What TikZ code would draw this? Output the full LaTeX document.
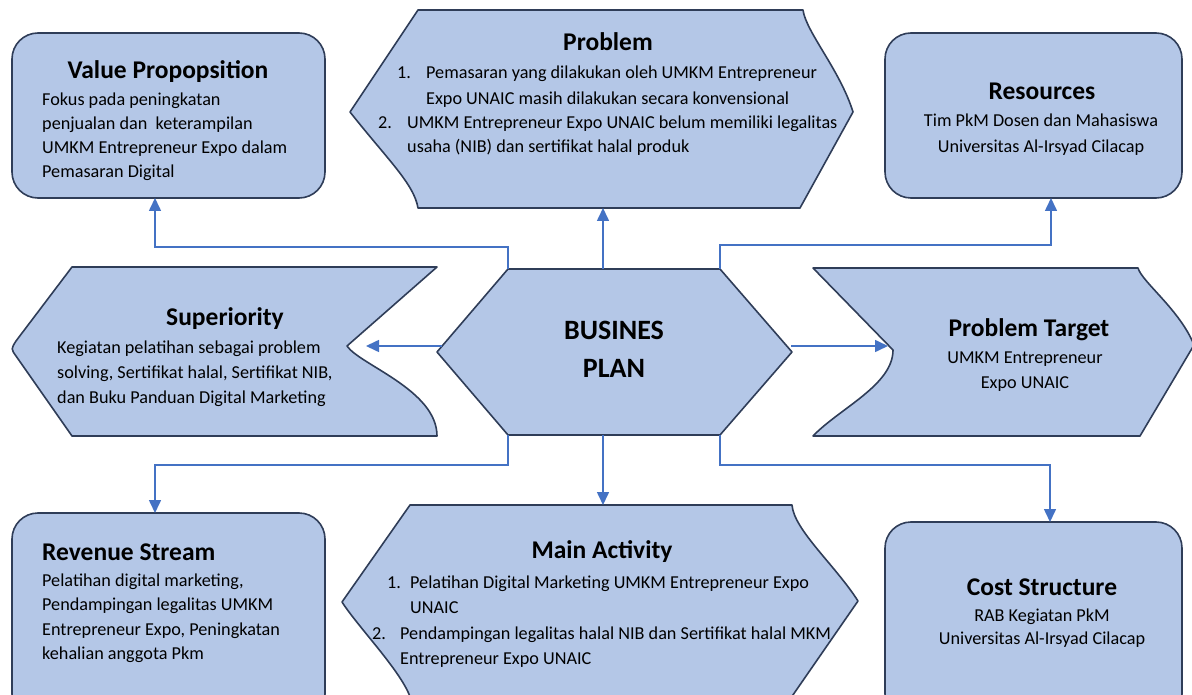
\documentclass[tikz,border=0pt]{standalone}
\usepackage{fontspec}
\setmainfont{Carlito}
\usetikzlibrary{arrows.meta}
\definecolor{boxfill}{HTML}{B4C7E7}
\definecolor{boxline}{HTML}{2F3D58}
\definecolor{link}{HTML}{4472C4}

\tikzset{
  shapebox/.style={fill=boxfill, draw=boxline, line width=1.6pt, line join=round},
  roundbox/.style={shapebox, rounded corners=26pt},
  conn/.style={draw=link, line width=1.6pt, -{Triangle[width=12pt,length=13pt]}},
  title/.style={font=\fontsize{25.5}{30}\selectfont\bfseries, inner sep=0pt, anchor=base},
  body/.style={font=\fontsize{18.2}{#1}\selectfont, inner sep=0pt},
  body/.default=24pt,
}

\begin{document}
\begin{tikzpicture}[x=1pt,y=-1pt]
\useasboundingbox (0,0) rectangle (1192,695);

% ---- top row -------------------------------------------------------
\draw[roundbox] (12,33) rectangle (325,198);
\draw[roundbox] (885,33) rectangle (1182,198);
\draw[shapebox] (418,10) -- (803,10)
  .. controls (806,32) and (840,70) .. (853,112) -- (800,208) -- (418,208)
  .. controls (414,184) and (388,160) .. (350,112) -- cycle;

% ---- middle row ----------------------------------------------------
\draw[shapebox] (72,267) -- (437,267) -- (347,346)
  .. controls (360,365) and (437,390) .. (437,436) -- (72,436)
  -- (16,356) .. controls (11,349) .. (16,341) -- cycle;
\draw[shapebox] (508,269) -- (720,269) -- (792,352) -- (720,435)
  -- (508,435) -- (437,352) -- cycle;
\draw[shapebox] (813,268) -- (1138,268)
  .. controls (1142,282) and (1180,310) .. (1194,345) -- (1140,436) -- (813,436)
  .. controls (840,408) and (893,385) .. (893,350) -- cycle;

% ---- bottom row ----------------------------------------------------
\draw[roundbox] (12,513) rectangle (325,720);
\draw[roundbox] (885,522) rectangle (1182,720);
\draw[shapebox] (410,505) -- (792,505)
  .. controls (794,530) and (835,565) .. (858,601) -- (786,705) -- (412,705)
  .. controls (410,680) and (360,630) .. (342,602) -- cycle;

% ---- connector end points ------------------------------------------
\coordinate (bp-nw) at (508,269);
\coordinate (bp-n)  at (603,269);
\coordinate (bp-ne) at (720,269);
\coordinate (bp-sw) at (508,435);
\coordinate (bp-s)  at (603,435);
\coordinate (bp-se) at (720,435);
\coordinate (bp-w)  at (442,346);
\coordinate (bp-e)  at (791,346);
\coordinate (vp-s)  at (155,198);
\coordinate (pr-s)  at (603,208);
\coordinate (rs-s)  at (1051,198);
\coordinate (sup-e) at (366,346);
\coordinate (pt-w)  at (888,346);
\coordinate (rev-n) at (155,513);
\coordinate (ma-n)  at (603,505);
\coordinate (cs-n)  at (1050,522);

% ---- connectors ----------------------------------------------------
\draw[conn] (bp-nw) -- (bp-nw |- 0,247) -| (vp-s);
\draw[conn] (bp-n) -- (pr-s);
\draw[conn] (bp-ne) -- (bp-ne |- 0,245) -| (rs-s);
\draw[conn] (bp-w) -- (sup-e);
\draw[conn] (bp-e) -- (pt-w);
\draw[conn] (bp-sw) -- (bp-sw |- 0,465) -| (rev-n);
\draw[conn] (bp-s) -- (ma-n);
\draw[conn] (bp-se) -- (bp-se |- 0,465) -| (cs-n);

% ---- texts (multi-line nodes sit on the baseline of their last line) ---
\node[title] (vp-t) at (168,79) {Value Propopsition};
\node[body, anchor=base west, align=left] (vp-b) at (42,178)
  {Fokus pada peningkatan\\penjualan dan \ keterampilan\\UMKM Entrepreneur Expo dalam\\Pemasaran Digital};

\node[title] (pr-t) at (608,51) {Problem};
\node[body, anchor=base west] (pr-1) at (397,79) {1.};
\node[body=26pt, anchor=base west, align=left] (pr-1t) at (426,105)
  {Pemasaran yang dilakukan oleh UMKM Entrepreneur\\Expo UNAIC masih dilakukan secara konvensional};
\node[body, anchor=base west] (pr-2) at (378,129) {2.};
\node[body, anchor=base west, align=left] (pr-2t) at (407,153)
  {UMKM Entrepreneur Expo UNAIC belum memiliki legalitas\\usaha (NIB) dan sertifikat halal produk};

\node[title] (rs-t) at (1042,100) {Resources};
\node[body=26pt, anchor=base, align=center] (rs-b) at (1041,153)
  {Tim PkM Dosen dan Mahasiswa\\Universitas Al-Irsyad Cilacap};

\node[title] (sup-t) at (225,325) {Superiority};
\node[body=25pt, anchor=base west, align=left] (sup-b) at (57,403)
  {Kegiatan pelatihan sebagai problem\\solving, Sertifikat halal, Sertifikat NIB,\\dan Buku Panduan Digital Marketing};

\node[font=\fontsize{28}{38}\selectfont\bfseries, inner sep=0pt, anchor=base, align=center] (bp-t) at (614,377)
  {BUSINES\\PLAN};

\node[title] (pt-t) at (1029,336) {Problem Target};
\node[body=25pt, anchor=base, align=center] (pt-b) at (1025,388)
  {UMKM Entrepreneur\\Expo UNAIC};

\node[title, anchor=base west] (rev-t) at (42,560) {Revenue Stream};
\node[body=24.5pt, anchor=base west, align=left] (rev-b) at (42,659.5)
  {Pelatihan digital marketing,\\Pendampingan legalitas UMKM\\Entrepreneur Expo, Peningkatan\\kehalian anggota Pkm};

\node[title] (ma-t) at (602,558) {Main Activity};
\node[body, anchor=base west] (ma-1) at (387,588) {1.};
\node[body=25pt, anchor=base west, align=left] (ma-1t) at (410,613)
  {Pelatihan Digital Marketing UMKM Entrepreneur Expo\\UNAIC};
\node[body, anchor=base west] (ma-2) at (372,639) {2.};
\node[body=25pt, anchor=base west, align=left] (ma-2t) at (400,664)
  {Pendampingan legalitas halal NIB dan Sertifikat halal MKM\\Entrepreneur Expo UNAIC};

\node[title] (cs-t) at (1042,595) {Cost Structure};
\node[body=23pt, anchor=base, align=center] (cs-b) at (1042,644)
  {RAB Kegiatan PkM\\Universitas Al-Irsyad Cilacap};
\end{tikzpicture}
\end{document}
